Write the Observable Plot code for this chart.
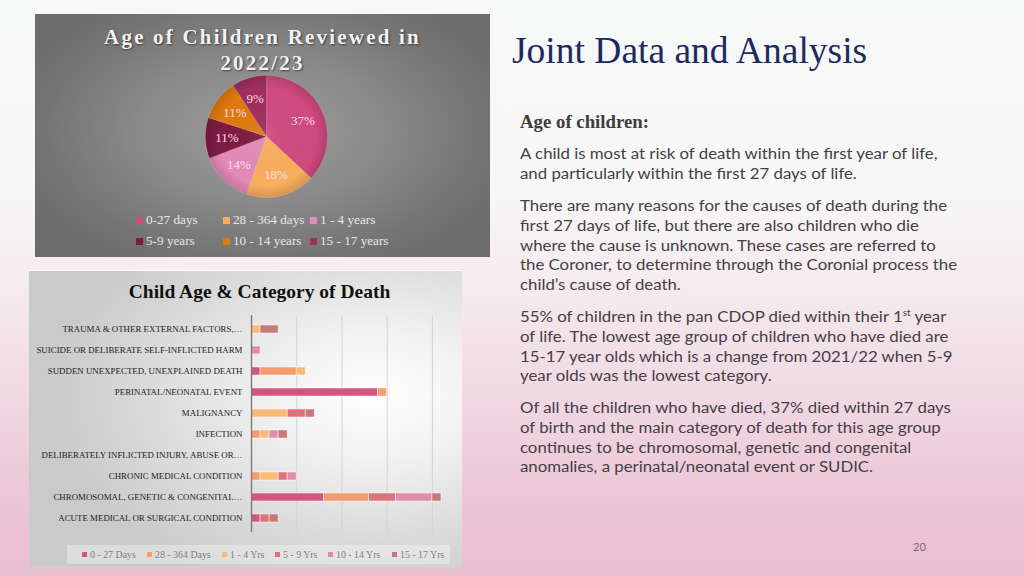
<!DOCTYPE html>
<html>
<head>
<meta charset="utf-8">
<script src="https://cdn.jsdelivr.net/npm/d3@7"></script>
<script src="https://cdn.jsdelivr.net/npm/@observablehq/plot@0.6"></script>
<style>
  html, body { margin: 0; padding: 0; }
  body {
    width: 1024px; height: 576px; overflow: hidden; position: relative;
    background: linear-gradient(to bottom, #f7f8f8 0%, #f7f7f7 33%, #f5ebef 50%, #f0d7e1 70%, #ebc5d5 88%, #eabfd1 100%);
    font-family: "Liberation Serif", serif;
  }
  .abs { position: absolute; }
  #pieBox {
    left: 35px; top: 14px; width: 455px; height: 243px;
    background: radial-gradient(ellipse 60% 65% at 50% 48%, #9c9c9c 0%, #8a8a8a 45%, #747474 80%, #6c6c6c 100%);
  }
  #pieTitle {
    left: 0; top: 10px; width: 455px; text-align: center;
    font: bold 21px/26px "Liberation Serif", serif; letter-spacing: 2.2px;
    color: #f2f2f2; text-shadow: 1px 1px 2px rgba(0,0,0,0.55);
  }
  .pleg { font: 13.2px "Liberation Serif", serif; color: #e6e6e6; white-space: nowrap; display: flex; align-items: center; }
  .pleg i { display: inline-block; width: 7px; height: 7px; margin-right: 3px; }
  #barBox {
    left: 29px; top: 270px; width: 433px; height: 297px;
    background: radial-gradient(ellipse 75% 70% at 80% 42%, #ffffff 0%, #f2f2f2 30%, #dddddd 65%, #cacaca 100%);
    border-top: 1px solid #ffffff; box-sizing: border-box;
  }
  #barTitle {
    left: 0; top: 10px; width: 461px; text-align: center;
    font: bold 19.5px/22px "Liberation Serif", serif; color: #111;
  }
  #barLegBg { left: 38px; top: 274px; width: 383px; height: 19px; background: rgba(255,255,255,0.35); }
  .bleg { font: 9.9px "Liberation Serif", serif; color: #7f7f7f; white-space: nowrap; display: flex; align-items: center; }
  .bleg i { display: inline-block; width: 5px; height: 5px; margin-right: 3px; }
  #mainTitle { left: 512px; top: 30px; font: 37.5px/42px "Liberation Serif", serif; color: #1c2b5e; white-space: nowrap; }
  #ageHead { left: 520px; top: 111px; font: bold 18.8px/22px "Liberation Serif", serif; color: #3d3d3d; white-space: nowrap; }
  #textBlock { left: 520px; top: 0; transform-origin: 0 0; }
  .para { position: absolute; left: 0; font: 15.5px/19.8px "Lato", sans-serif; color: #454045; white-space: nowrap; }
  .para div { width: max-content; }
  .para sup { font-size: 0.6em; line-height: 0; vertical-align: 0.7em; }
  #pageNum { left: 913px; top: 540px; font: 11px "Lato", sans-serif; color: #7b6676; }
</style>
</head>
<body>
<div id="pieBox" class="abs">
  <div id="pieChart" class="abs" style="left:0;top:0"></div>
  <div id="pieTitle" class="abs">Age of Children Reviewed in<br>2022/23</div>
</div>
<div id="barBox" class="abs">
  <div id="barLegBg" class="abs"></div>
  <div id="barChart" class="abs" style="left:0;top:-1px"></div>
  <div id="barTitle" class="abs">Child Age &amp; Category of Death</div>
</div>
<div id="mainTitle" class="abs">Joint Data and Analysis</div>
<div id="ageHead" class="abs">Age of children:</div>
<div id="textBlock" class="abs">
  <div class="para" style="top:144px">
    <div>A child is most at risk of death within the first year of life,</div>
    <div>and particularly within the first 27 days of life.</div>
  </div>
  <div class="para" style="top:196px">
    <div>There are many reasons for the causes of death during the</div>
    <div>first 27 days of life, but there are also children who die</div>
    <div>where the cause is unknown. These cases are referred to</div>
    <div>the Coroner, to determine through the Coronial process the</div>
    <div>child’s cause of death.</div>
  </div>
  <div class="para" style="top:307px">
    <div>55% of children in the pan CDOP died within their 1<sup>st</sup> year</div>
    <div>of life. The lowest age group of children who have died are</div>
    <div>15-17 year olds which is a change from 2021/22 when 5-9</div>
    <div>year olds was the lowest category.</div>
  </div>
  <div class="para" style="top:398px">
    <div>Of all the children who have died, 37% died within 27 days</div>
    <div>of birth and the main category of death for this age group</div>
    <div>continues to be chromosomal, genetic and congenital</div>
    <div>anomalies, a perinatal/neonatal event or SUDIC.</div>
  </div>
</div>
<div id="pageNum" class="abs">20</div>

<script>
// ---------- Data ----------
const pieLabels = ["0-27 days", "28 - 364 days", "1 - 4 years", "5-9 years", "10 - 14 years", "15 - 17 years"];
const pieCounts = [24, 12, 9, 7, 7, 6];
const pieColors = ["#d04a7e", "#f9ae5e", "#e48ab8", "#7e1b42", "#e07a10", "#a22e5e"];

const categories = [
  "TRAUMA & OTHER EXTERNAL FACTORS,…",
  "SUICIDE OR DELIBERATE SELF-INFLICTED HARM",
  "SUDDEN UNEXPECTED, UNEXPLAINED DEATH",
  "PERINATAL/NEONATAL EVENT",
  "MALIGNANCY",
  "INFECTION",
  "DELIBERATELY INFLICTED INJURY, ABUSE OR…",
  "CHRONIC MEDICAL CONDITION",
  "CHROMOSOMAL, GENETIC & CONGENITAL…",
  "ACUTE MEDICAL OR SURGICAL CONDITION"
];
const barAges = ["0 - 27 Days", "28 - 364 Days", "1 - 4 Yrs", "5 - 9 Yrs", "10 - 14 Yrs", "15 - 17 Yrs"];
const days0_27   = [0, 0, 1, 14, 0, 0, 0, 0, 8, 1];
const days28_364 = [0, 0, 4, 1, 0, 1, 0, 1, 5, 0];
const yrs1_4     = [1, 0, 1, 0, 4, 1, 0, 2, 0, 0];
const yrs5_9     = [0, 0, 0, 0, 2, 0, 0, 1, 3, 1];
const yrs10_14   = [0, 1, 0, 0, 0, 1, 0, 1, 4, 0];
const yrs15_17   = [2, 0, 0, 0, 1, 1, 0, 0, 1, 1];
const barColors = ["#d2577f", "#f79a6e", "#f9ba78", "#de727a", "#e08bb0", "#c47a78"];
const gridTicks = [5, 10, 15, 20];

// ---------- Pie chart ----------
const total = d3.sum(pieCounts);
const arcs = d3.pie().sort(null)(pieCounts);
const slicePts = [];
arcs.forEach((a, i) => {
  slicePts.push({key: pieLabels[i], x: 0, y: 0});
  const n = Math.max(2, Math.ceil((a.endAngle - a.startAngle) / 0.02));
  for (let k = 0; k <= n; k++) {
    const t = a.startAngle + (a.endAngle - a.startAngle) * k / n;
    slicePts.push({key: pieLabels[i], x: Math.sin(t), y: Math.cos(t)});
  }
});
const pieText = arcs.map((a, i) => {
  const m = (a.startAngle + a.endAngle) / 2;
  return {x: 0.65 * Math.sin(m), y: 0.65 * Math.cos(m), label: Math.round(pieCounts[i] / total * 100) + "%"};
});

const pie = Plot.plot({
  width: 455, height: 243,
  marginLeft: 170, marginRight: 163, marginTop: 61, marginBottom: 60,
  x: {domain: [-1, 1], axis: null},
  y: {domain: [-1, 1], axis: null},
  color: {domain: pieLabels, range: pieColors},
  style: {background: "transparent", fontFamily: "Liberation Serif, serif", overflow: "visible"},
  marks: [
    Plot.line(slicePts, {x: "x", y: "y", z: "key", fill: "key", stroke: "#ffffff", strokeOpacity: 0.18, strokeWidth: 0.8, curve: "linear-closed"}),
    Plot.dot([{x: 0, y: 0}], {x: "x", y: "y", r: 61, fill: "url(#pieShade)", stroke: "none"}),
    Plot.text(pieText, {x: "x", y: "y", text: "label", fill: "#f7dce7", fontSize: 13})
  ]
});
pie.insertAdjacentHTML("afterbegin",
  `<defs><radialGradient id="pieShade" cx="50%" cy="50%" r="50%">
     <stop offset="0%" stop-color="#ffffff" stop-opacity="0.06"/>
     <stop offset="80%" stop-color="#000000" stop-opacity="0"/>
     <stop offset="100%" stop-color="#000000" stop-opacity="0.14"/>
   </radialGradient></defs>`);
document.getElementById("pieChart").appendChild(pie);

// pie legend
const pieLegPos = [[101, 206], [188, 206], [275, 206], [101, 227], [188, 227], [275, 227]];
pieLabels.forEach((lab, i) => {
  const d = document.createElement("div");
  d.className = "pleg abs";
  d.style.left = pieLegPos[i][0] + "px";
  d.style.top = (pieLegPos[i][1] - 8) + "px";
  d.style.height = "16px";
  d.innerHTML = `<i style="background:${pieColors[i]}"></i>${lab}`;
  document.getElementById("pieBox").appendChild(d);
});

// ---------- Bar chart ----------
const series = [days0_27, days28_364, yrs1_4, yrs5_9, yrs10_14, yrs15_17];
const barData = [];
categories.forEach((c, j) => {
  series.forEach((s, i) => {
    if (s[j] > 0) barData.push({cat: c, age: barAges[i], value: s[j]});
  });
});

const bar = Plot.plot({
  width: 433, height: 297,
  marginLeft: 222, marginRight: 12, marginTop: 45, marginBottom: 35,
  x: {domain: [0, 22], axis: null},
  y: {domain: categories, paddingInner: 0.6, paddingOuter: 0.3, label: null},
  color: {domain: barAges, range: barColors},
  style: {background: "transparent", fontFamily: "Liberation Serif, serif", overflow: "visible"},
  marks: [
    Plot.ruleX(gridTicks, {stroke: "#d4d4d4", strokeWidth: 1}),
    Plot.barX(barData, Plot.stackX({x: "value", y: "cat", fill: "age", order: barAges, stroke: "#ffffff", strokeOpacity: 0.7, strokeWidth: 0.7})),
    Plot.ruleX([0], {stroke: "#7a7a7a", strokeWidth: 1.4}),
    Plot.axisY({tickSize: 0, tickPadding: 9, fontSize: 8.9, fill: "#222", label: null})
  ]
});
document.getElementById("barChart").appendChild(bar);

const barLegX = [53, 118, 193, 246, 299, 363];
barAges.forEach((lab, i) => {
  const d = document.createElement("div");
  d.className = "bleg abs";
  d.style.left = barLegX[i] + "px";
  d.style.top = "275px";
  d.style.height = "16px";
  d.innerHTML = `<i style="background:${barColors[i]}"></i>${lab}`;
  document.getElementById("barBox").appendChild(d);
});

// ---------- Fit right-hand text block width ----------
const lines = document.querySelectorAll("#textBlock .para div");
let maxW = 0;
lines.forEach(l => { maxW = Math.max(maxW, l.getBoundingClientRect().width); });
const s = 437 / maxW;
document.getElementById("textBlock").style.transform = `scaleX(${s})`;
</script>
</body>
</html>
